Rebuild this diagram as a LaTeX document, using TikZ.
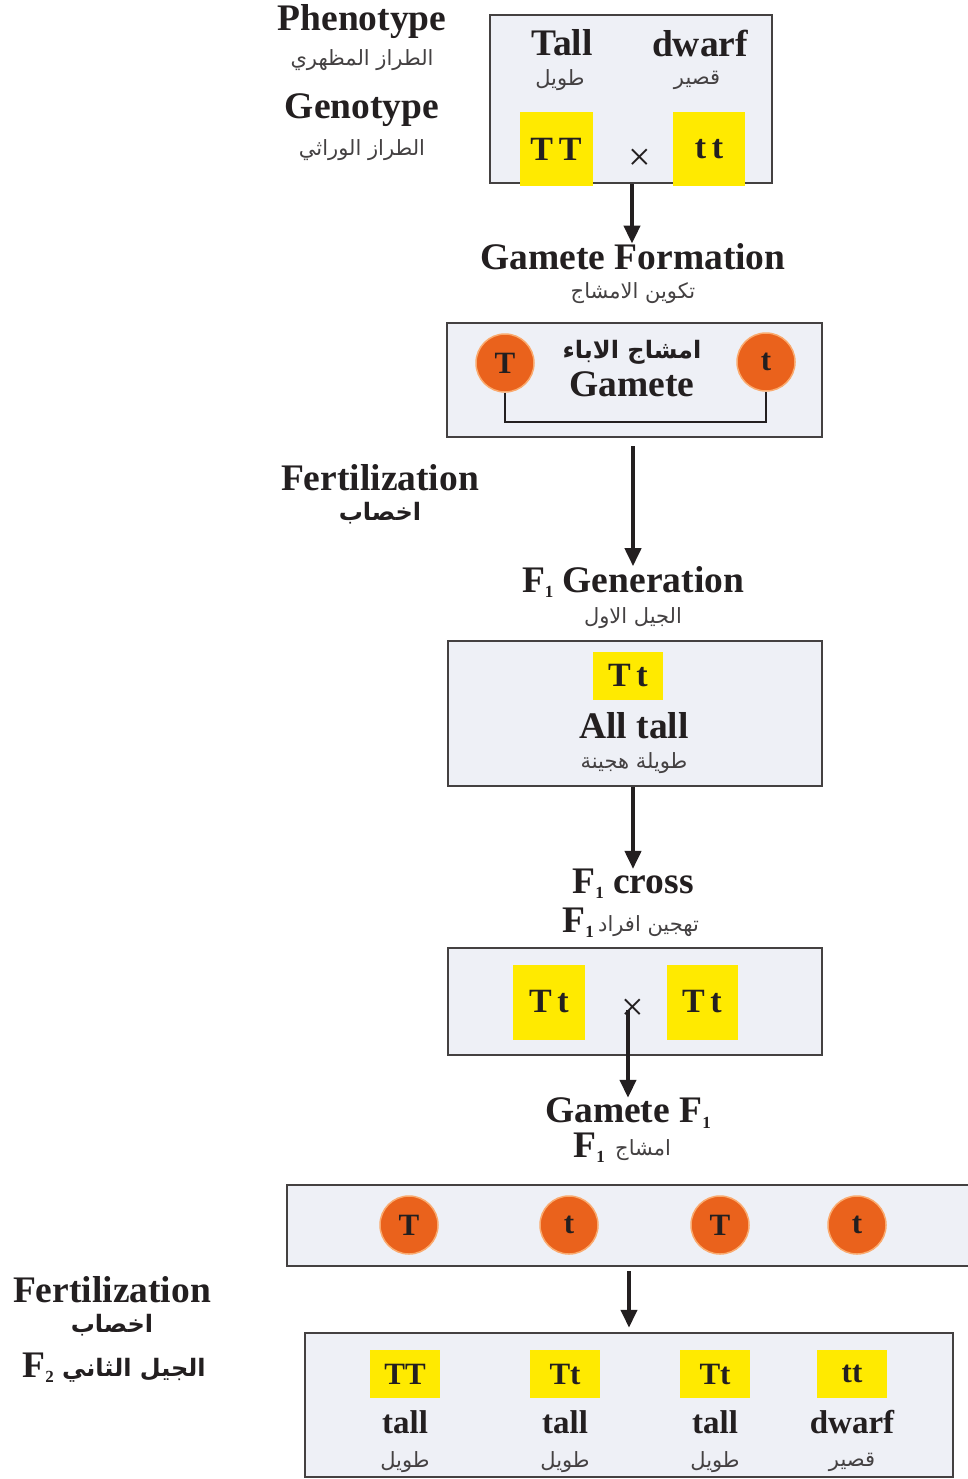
\documentclass[tikz,border=0pt]{standalone}
\usepackage{fontspec}
\setmainfont{Liberation Serif}
\newfontfamily\arabicfont[Script=Arabic]{DejaVu Sans}
\TeXXeTstate=1
\usetikzlibrary{arrows.meta}
\definecolor{ink}{RGB}{35,31,32}
\definecolor{panelbg}{RGB}{238,240,246}
\definecolor{genyellow}{RGB}{255,234,0}
\definecolor{gamorange}{RGB}{234,98,28}
\definecolor{gamrim}{RGB}{250,170,110}
\newcommand{\arab}[1]{{\arabicfont\beginR #1\endR}}
\newcommand{\gsub}[1]{\raisebox{-0.3ex}{\fontsize{17}{17}\selectfont #1}}

\begin{document}
\begin{tikzpicture}[x=1pt, y=-1pt,
    lbl/.style={font=\fontsize{37.5}{40}\selectfont\bfseries, text=ink, inner sep=0pt},
    small/.style={font=\fontsize{33}{36}\selectfont\bfseries, text=ink, inner sep=0pt},
    arlbl/.style={font=\fontsize{21}{24}\arabicfont, text=ink!85, inner sep=0pt},
    arbold/.style={font=\fontsize{24}{26}\arabicfont\bfseries, text=ink, inner sep=0pt},
    panel/.style={draw=ink!85, line width=2.5pt, fill=panelbg, inner sep=0pt},
    gene/.style={fill=genyellow, inner sep=0pt, font=\fontsize{34}{36}\selectfont\bfseries, text=ink},
    gam/.style={circle, fill=gamorange, draw=gamrim, line width=1.5pt, minimum size=58pt, inner sep=0pt, font=\fontsize{31}{32}\selectfont\bfseries, text=ink},
    crossmark/.style={font=\fontsize{40}{40}\selectfont, text=ink, inner sep=0pt},
    arr/.style={draw=ink, line width=4pt, -{Triangle[length=18pt, width=16pt]}},
  ]
    \clip (0,0) rectangle (968,1479);

    % Parents
    \node[lbl] (pheno) at (362,22) {Phenotype};
    \node[arlbl] (phenoar) at (362,60) {\arab{الطراز المظهري}};
    \node[lbl] (geno) at (362,110) {Genotype};
    \node[arlbl] (genoar) at (362,150) {\arab{الطراز الوراثي}};

    \node[panel, minimum width=282pt, minimum height=168pt] (parents) at (631,99) {};
    \node[lbl] (tall) at (562,43) {Tall};
    \node[lbl] (dwarf) at (700,43) {dwarf};
    \node[arlbl] (tallar) at (560,80) {\arab{طويل}};
    \node[arlbl] (dwarfar) at (697,80) {\arab{قصير}};
    \node[gene, minimum width=73pt, minimum height=74pt] (TTp) at (556,149) {T\,T};
    \node[gene, minimum width=72pt, minimum height=74pt] (ttp) at (709,149) {t\,t};
    \node[crossmark] (cross1) at (640,160) {×};

    % Gamete formation
    \node[lbl] (gform) at (633,257) {Gamete Formation};
    \node[arlbl] (gformar) at (633,293) {\arab{تكوين الامشاج}};
    \draw[arr] (parents.south -| cross1) ++(-8,0) coordinate (p0) -- (p0 |- gform.north);

    \node[panel, minimum width=375pt, minimum height=114pt] (gambox) at (634.5,380) {};
    \node[gam] (gT) at (505,363) {T};
    \node[gam] (gt) at (766,362) {t};
    \node[arbold] (gamar) at (632,352) {\arab{امشاج الاباء}};
    \node[lbl] (gamlbl) at (632,384) {Gamete};
    \coordinate (gbase) at (632,422);
    \draw[draw=ink, line width=2pt] (gT.south) -- (gT.south |- gbase) -| (gt.south);

    % Fertilization
    \node[lbl] (fert) at (380,478) {Fertilization};
    \node[arbold] (fertar) at (380,513) {\arab{اخصاب}};

    % F1 generation
    \node[lbl] (f1gen) at (633,582) {F\gsub{1} Generation};
    \node[arlbl] (f1genar) at (633,618) {\arab{الجيل الاول}};
    \draw[arr, shorten <=8pt] (f1gen.north |- gambox.south) -- (f1gen.north);

    \node[panel, minimum width=374pt, minimum height=145pt] (f1box) at (635,713.5) {};
    \node[gene, minimum width=70pt, minimum height=48pt] (Ttf1) at (628,676) {T\,t};
    \node[lbl] (alltall) at (634,726) {All tall};
    \node[arlbl] (alltallar) at (634,763) {\arab{طويلة هجينة}};

    % F1 cross
    \node[lbl] (f1cross) at (633,884) {F\gsub{1} cross};
    \node[lbl, anchor=east] (f1crossF) at (594,923) {F\gsub{1}};
    \node[arlbl, anchor=west] (f1crossar) at (598,926) {\arab{تهجين افراد}};
    \draw[arr] (f1cross.north |- f1box.south) -- (f1cross.north);

    \node[panel, minimum width=374pt, minimum height=107pt] (crossbox) at (635,1001.5) {};
    \node[gene, minimum width=72pt, minimum height=75pt] (Ttl) at (549,1002) {T\,t};
    \node[gene, minimum width=71pt, minimum height=75pt] (Ttr) at (702,1002) {T\,t};
    \node[crossmark] (cross2) at (633,1010) {×};

    % F1 gametes
    \node[lbl] (gamF1) at (628,1113) {Gamete F\gsub{1}};
    \node[lbl, anchor=east] (gamF1F) at (605,1148) {F\gsub{1}};
    \node[arlbl, anchor=west] (gamF1ar) at (615,1150) {\arab{امشاج}};
    \draw[arr] (cross2.center -| gamF1.north) -- (gamF1.north);

    \node[panel, minimum width=693pt, minimum height=81pt] (gambox2) at (633.5,1225.5) {};
    \foreach \x/\a/\n in {409/T/1, 569/t/2, 720/T/3, 857/t/4}
      \node[gam] (g2\n) at (\x,1225) {\a};

    % F2 generation
    \node[lbl] (fert2) at (112,1290) {Fertilization};
    \node[arbold] (fert2ar) at (112,1325) {\arab{اخصاب}};
    \node[lbl, anchor=east] (f2F) at (54,1368) {F\gsub{2}};
    \node[arbold, anchor=west] (f2ar) at (62,1370) {\arab{الجيل الثاني}};

    \node[panel, minimum width=648pt, minimum height=144pt] (f2box) at (629,1405) {};
    \draw[arr, shorten <=4pt, shorten >=4pt] (gambox2.south -| f2box.north) -- (f2box.north);
    \foreach \x/\g/\p/\q/\n in {405/TT/tall/طويل/1, 565/Tt/tall/طويل/2, 715/Tt/tall/طويل/3, 852/tt/dwarf/قصير/4} {
      \node[gene, minimum width=70pt, minimum height=48pt, font=\fontsize{31}{32}\selectfont\bfseries] (f2g\n) at (\x,1374) {\g};
      \node[small] (f2p\n) at (\x,1422) {\p};
      \node[arlbl] (f2q\n) at (\x,1462) {\arab{\q}};
    }
\end{tikzpicture}
\end{document}
